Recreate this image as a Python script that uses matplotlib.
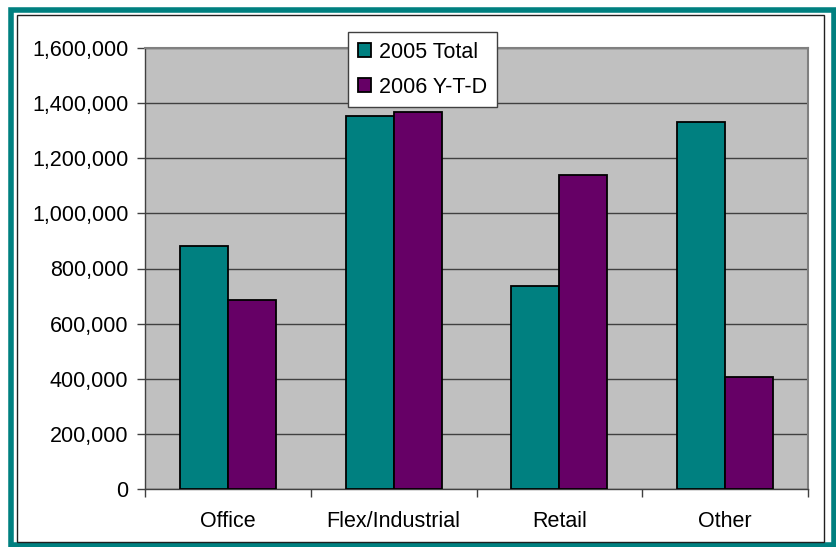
import matplotlib

matplotlib.use("Agg")

import numpy
import matplotlib.pyplot as plt
from matplotlib.patches import Rectangle
from matplotlib.ticker import FuncFormatter

categories = ["Office", "Flex/Industrial", "Retail", "Other"]
total_2005 = [880000, 1352000, 735000, 1330000]
ytd_2006 = [685000, 1366000, 1140000, 407000]
series_names = ["2005 Total", "2006 Y-T-D"]

W, H = 836, 547
plt.rcParams["font.family"] = ["Liberation Sans", "DejaVu Sans"]

fig = plt.figure(figsize=(W / 100.0, H / 100.0), dpi=100)
fig.patch.set_facecolor("white")

# outer teal frame and inner black frame
fig.patches.append(Rectangle((10.5 / W, 1 - 545 / H), 823 / W, 535 / H, transform=fig.transFigure,
                             fill=False, edgecolor="#008080", linewidth=4.0))
fig.patches.append(Rectangle((16.5 / W, 1 - 542 / H), 807 / W, 527 / H, transform=fig.transFigure,
                             fill=False, edgecolor="#202020", linewidth=1.0))

ax = fig.add_axes([145 / W, 1 - 489 / H, (808 - 145) / W, (489 - 48) / H])
ax.set_facecolor("#C0C0C0")

x = numpy.arange(len(categories))
bw = 0.29
b1 = ax.bar(x - bw / 2, total_2005, bw, color="#008080", edgecolor="black", linewidth=1.3, zorder=3)
b2 = ax.bar(x + bw / 2, ytd_2006, bw, color="#660066", edgecolor="black", linewidth=1.3, zorder=3)

ax.set_xlim(-0.5, len(categories) - 0.5)
ax.set_ylim(0, 1600000)
ax.set_yticks(numpy.arange(0, 1600001, 200000))
ax.yaxis.set_major_formatter(FuncFormatter(lambda v, p: "{:,.0f}".format(v)))
ax.grid(axis="y", color="#404040", linewidth=1.0, zorder=1)

ax.set_xticks(x)
ax.set_xticklabels(categories)
ax.set_xticks(numpy.arange(-0.5, len(categories)), minor=True)
ax.tick_params(axis="x", which="major", length=0, pad=16, labelsize=15.5)
ax.tick_params(axis="x", which="minor", length=6, width=1, color="#404040")
ax.tick_params(axis="y", length=6, width=1, color="#404040", labelsize=15.5, pad=6)

for s in ["top", "right"]:
    ax.spines[s].set_color("#808080")
    ax.spines[s].set_linewidth(1.5)
for s in ["left", "bottom"]:
    ax.spines[s].set_color("#404040")
    ax.spines[s].set_linewidth(1.0)

leg = ax.legend([b1, b2], series_names, loc="upper left", bbox_to_anchor=((348 - 145) / (808 - 145), 1 + 16 / 441),
                fontsize=15.5, frameon=True, fancybox=False, framealpha=1.0, handlelength=0.6, handleheight=0.6,
                handletextpad=0.4, labelspacing=0.65, borderpad=0.45, borderaxespad=0)
leg.get_frame().set_edgecolor("#404040")
leg.get_frame().set_linewidth(1.0)
leg.set_zorder(5)

fig.savefig("out.png", dpi=100)
